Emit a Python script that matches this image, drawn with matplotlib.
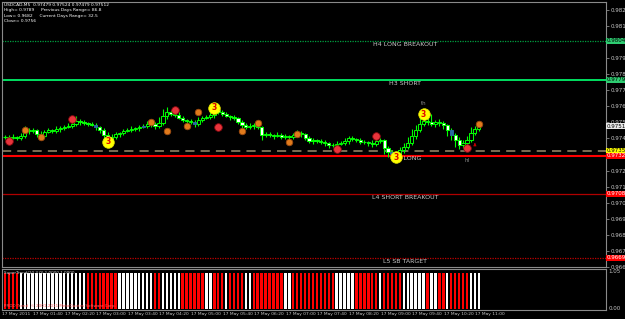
import matplotlib
matplotlib.use('Agg')
import matplotlib.pyplot as plt
from matplotlib.transforms import blended_transform_factory

# ---------------- data ----------------
symbol_header = ["USDCAD,M5  0.97479 0.97524 0.97479 0.97512",
                 "High= 0.9789     Previous Days Range= 86.8",
                 "Low= 0.9682     Current Days Range= 32.5",
                 "Close= 0.9756"]

first_open = 0.97444
closes = [0.97444, 0.97438, 0.97444, 0.97438, 0.97450, 0.97487, 0.97481, 0.97487, 0.97462, 0.97450,
          0.97475, 0.97487, 0.97481, 0.97494, 0.97500, 0.97506, 0.97512, 0.97525, 0.97543, 0.97537,
          0.97531, 0.97525, 0.97519, 0.97506, 0.97487, 0.97456, 0.97425, 0.97444, 0.97462, 0.97469,
          0.97481, 0.97487, 0.97494, 0.97500, 0.97506, 0.97512, 0.97525, 0.97525, 0.97512, 0.97531,
          0.97575, 0.97600, 0.97587, 0.97581, 0.97562, 0.97550, 0.97543, 0.97537, 0.97525, 0.97550,
          0.97562, 0.97568, 0.97581, 0.97612, 0.97600, 0.97587, 0.97575, 0.97568, 0.97562, 0.97537,
          0.97519, 0.97506, 0.97512, 0.97519, 0.97506, 0.97456, 0.97462, 0.97456, 0.97450, 0.97456,
          0.97444, 0.97450, 0.97444, 0.97456, 0.97469, 0.97462, 0.97438, 0.97419, 0.97425, 0.97419,
          0.97413, 0.97406, 0.97394, 0.97394, 0.97400, 0.97406, 0.97419, 0.97438, 0.97431, 0.97425,
          0.97413, 0.97413, 0.97406, 0.97400, 0.97419, 0.97425, 0.97375, 0.97350, 0.97338, 0.97332,
          0.97363, 0.97381, 0.97406, 0.97450, 0.97487, 0.97525, 0.97543, 0.97537, 0.97525, 0.97537,
          0.97531, 0.97519, 0.97487, 0.97456, 0.97425, 0.97394, 0.97406, 0.97425, 0.97469, 0.97494,
          0.97512]
# wick lengths in units of 3.5 points (0.000035)
upper_wick = [4, 3, 5, 2, 6, 8, 3, 4, 2, 5, 3, 4, 2, 6, 3, 4, 5, 3, 9, 4,
              3, 2, 4, 3, 2, 3, 5, 6, 3, 2, 4, 3, 5, 2, 4, 3, 6, 4, 3, 10,
              12, 8, 4, 3, 5, 3, 2, 4, 3, 6, 4, 3, 5, 9, 6, 3, 4, 2, 3, 2,
              4, 3, 5, 3, 6, 2, 3, 4, 2, 5, 3, 4, 2, 3, 5, 3, 2, 4, 3, 2,
              3, 4, 2, 3, 5, 3, 6, 4, 3, 2, 4, 3, 2, 5, 6, 3, 2, 3, 4, 5,
              6, 8, 10, 12, 9, 14, 8, 6, 15, 4, 5, 3, 2, 4, 3, 5, 6, 8, 10, 6,
              5]
lower_wick = [3, 5, 2, 4, 3, 4, 6, 3, 5, 4, 3, 2, 4, 3, 5, 3, 2, 4, 3, 5,
              4, 3, 2, 5, 6, 8, 10, 4, 3, 5, 3, 2, 4, 3, 5, 2, 3, 5, 6, 4,
              3, 5, 4, 3, 2, 4, 5, 3, 6, 4, 3, 2, 4, 5, 3, 4, 2, 5, 3, 4,
              6, 3, 4, 5, 3, 8, 4, 3, 5, 2, 4, 3, 5, 3, 2, 6, 4, 3, 5, 4,
              3, 5, 6, 4, 3, 2, 4, 5, 3, 4, 3, 4, 5, 6, 3, 4, 10, 8, 9, 12,
              6, 5, 4, 3, 5, 4, 3, 6, 4, 5, 6, 8, 10, 9, 12, 8, 6, 5, 4, 3,
              4]
blue_bars = [23, 35, 48, 98, 113]

red_idx = [1, 17, 43, 54, 84, 94, 117]
red_px = [0.97419, 0.97556, 0.97612, 0.97506, 0.97369, 0.97450, 0.97375]
orange_idx = [5, 9, 37, 41, 46, 49, 60, 64, 72, 74, 120]
orange_px = [0.97487, 0.97444, 0.97537, 0.97481, 0.97512, 0.97600, 0.97481, 0.97531, 0.97413, 0.97462, 0.97525]
yellow_idx = [26, 53, 99, 106]
yellow_px = [0.97413, 0.97625, 0.97319, 0.97587]

levels = [0.98042, 0.97799, 0.97357, 0.97326, 0.97089, 0.96691]
level_names = ["H4 LONG BREAKOUT", "H3 SHORT", "", "L3 LONG", "L4 SHORT BREAKOUT", "L5 SB TARGET"]
close_price = 0.97512

price_ticks = [0.98235, 0.98135, 0.98035, 0.97935, 0.97835, 0.97735, 0.97635, 0.97535, 0.97435,
               0.97335, 0.97235, 0.97135, 0.97035, 0.96935, 0.96835, 0.96735, 0.96635]

date_idx = [0, 8, 16, 24, 32, 40, 48, 56, 64, 72, 80, 88, 96, 104, 112, 120]
date_labels = ["17 May 2011", "17 May 01:40", "17 May 02:20", "17 May 03:00", "17 May 03:40",
               "17 May 04:20", "17 May 05:00", "17 May 05:40", "17 May 06:20", "17 May 07:00",
               "17 May 07:40", "17 May 08:20", "17 May 09:00", "17 May 09:40", "17 May 10:20",
               "17 May 11:00"]

hist_runs = [("R", 4), ("W", 17), ("R", 8), ("W", 9), ("R", 2), ("W", 5), ("R", 6), ("W", 2),
             ("R", 3), ("W", 1), ("R", 4), ("W", 2), ("R", 8), ("W", 2), ("R", 11), ("W", 5),
             ("R", 6), ("W", 1), ("R", 5), ("W", 6), ("R", 1), ("W", 2), ("R", 2), ("W", 1),
             ("R", 5), ("W", 3)]

# ---------------- figure ----------------
W, H = 625, 319
fig = plt.figure(figsize=(6.25, 3.19), dpi=100, facecolor='black')


def px_axes(x0, y0, x1, y1):
    return fig.add_axes([x0 / W, 1 - y1 / H, (x1 - x0) / W, (y1 - y0) / H])


FS = 4.0
GRAY = '#c8c8c8'
ax = px_axes(2, 2, 606, 267)
ax.set_facecolor('black')
ax.set_xlim(-0.76, 152.2)
ax.set_ylim(0.966339, 0.982848)
for s in ax.spines.values():
    s.set_color('#8a8a8a')
    s.set_linewidth(0.8)
ax.set_xticks([])
ax.yaxis.tick_right()
ax.set_yticks(price_ticks)
ax.set_yticklabels(["%.5f" % p for p in price_ticks])
ax.tick_params(axis='y', colors='#8a8a8a', labelcolor=GRAY, labelsize=FS, length=2, width=0.6, pad=1.5)

# level lines
ax.axhline(levels[0], color='#00a040', lw=0.9, ls=(0, (1, 1)), zorder=1)
ax.axhline(levels[1], color='#00e060', lw=1.4, zorder=1)
ax.axhline(levels[2], color='#9a8c6c', lw=1.1, ls=(0, (6, 4)), zorder=1)
ax.axhline(levels[3], color='#ff0000', lw=1.5, zorder=1)
ax.axhline(levels[4], color='#b00000', lw=0.9, zorder=1)
ax.axhline(levels[5], color='#c00000', lw=0.9, ls=(0, (1, 1)), zorder=1)

label_pos = [0, 1, 3, 4, 5]
label_x = [101.3, 101.3, 102.0, 101.3, 101.3]
label_dy = [-0.00006, -0.00008, -0.00003, -0.00008, -0.00006]
for k, lx, dy in zip(label_pos, label_x, label_dy):
    ax.text(lx, levels[k] + dy, level_names[k], color=GRAY, fontsize=FS + 0.5,
            ha='center', va='top', zorder=3)

# candles
opens = [first_open] + closes[:-1]
for i, (o, c) in enumerate(zip(opens, closes)):
    hi = max(o, c) + upper_wick[i] * 3.5e-5
    lo = min(o, c) - lower_wick[i] * 3.5e-5
    ax.vlines(i, lo, hi, color='#00ff00', lw=0.8, zorder=4)
    fill = 'black' if c >= o else 'white'
    edge = '#00ff00'
    if i in blue_bars:
        fill = '#2a6aa0'
        edge = '#2a6aa0'
    h = abs(c - o)
    if h < 1e-6:
        ax.hlines(c, i - 0.4, i + 0.4, color='#00ff00', lw=0.8, zorder=5)
    else:
        ax.bar(i, h, bottom=min(o, c), width=0.8, color=fill, edgecolor=edge, lw=0.7, zorder=5)

# markers
ax.scatter(orange_idx, orange_px, s=22, c='#e07a1c', edgecolors='#9a4a10', linewidths=0.6, zorder=6)
ax.scatter(red_idx, red_px, s=30, c='#e8343c', edgecolors='#8a0a10', linewidths=0.6, zorder=6)
ax.scatter(yellow_idx, yellow_px, s=70, c='#ffff00', edgecolors='#e0e000', linewidths=0.5, zorder=7)
for i, p in zip(yellow_idx, yellow_px):
    ax.text(i, p, "3", color='#e00000', fontsize=5.5, fontweight='bold', ha='center', va='center', zorder=8)
ax.text(106, 0.97655, "th", color='#8a8a8a', fontsize=FS, ha='center', va='center', zorder=8)
ax.text(117, 0.97300, "hl", color='#8a8a8a', fontsize=FS, ha='center', va='center', zorder=8)
ax.annotate("", xy=(119, 0.97425), xytext=(119, 0.97380),
            arrowprops=dict(arrowstyle='-|>', color='#c00000', lw=0.6, mutation_scale=4), zorder=8)

# header
for k, line in enumerate(symbol_header):
    fig.text(4 / W, 1 - (5 + 5.4 * k) / H, line, color='white', fontsize=3.2, va='center', ha='left')

# right price boxes
tr = blended_transform_factory(ax.transAxes, ax.transData)
boxes = [(levels[0], '#2ecc71', 'black'), (levels[1], '#2ecc71', 'black'),
         (close_price, '#e8e8e8', 'black'), (levels[2], '#ffff00', 'black'),
         (levels[3], '#ff0000', 'white'), (levels[4], '#ff0000', 'white'),
         (levels[5], '#ff0000', 'white')]
for p, fc, tc in boxes:
    ax.text(1.0015, p, "%.5f" % p, transform=tr, fontsize=FS, color=tc, va='center', ha='left',
            bbox=dict(boxstyle='square,pad=0.15', fc=fc, ec='none'), clip_on=False, zorder=9)

# ---------------- sub window ----------------
axs = px_axes(2, 269, 606, 310)
axs.set_facecolor('black')
axs.set_xlim(-0.76, 152.2)
axs.set_ylim(-0.04, 1.12)
for s in axs.spines.values():
    s.set_color('#8a8a8a')
    s.set_linewidth(0.8)
axs.set_xticks([])
axs.set_yticks([])
hist_colors = []
for col, n in hist_runs:
    hist_colors += [('#ff0000' if col == 'R' else '#ffffff')] * n
axs.bar(range(len(hist_colors)), [1.0] * len(hist_colors), width=0.62, color=hist_colors, lw=0)
axs.text(1.004, 1.05, "1.05", transform=blended_transform_factory(axs.transAxes, axs.transData),
         color=GRAY, fontsize=FS, va='center', ha='left', clip_on=False)
axs.text(1.004, 0.0, "0.00", transform=blended_transform_factory(axs.transAxes, axs.transData),
         color=GRAY, fontsize=FS, va='center', ha='left', clip_on=False)
axs.text(0.003, 0.9, "SuperTrend(10,3.0) 1.0000 1.0000", transform=axs.transAxes, color='#d8d8d8',
         fontsize=3.0, va='center', ha='left', zorder=5)
axs.text(0.003, 0.1, "PRDD Trend  \u00a9 2001-2011 MetaQuotes Software Corp.", transform=axs.transAxes,
         color='#ff6060', fontsize=3.0, va='center', ha='left', zorder=5)

# dates
for i, lab in zip(date_idx, date_labels):
    xpx = 2 + (i + 0.76) * (604 / 152.96) - 3.5
    fig.text(xpx / W, 1 - 313.5 / H, lab, color=GRAY, fontsize=3.2, va='center', ha='left')

fig.savefig('out.png', dpi=100, facecolor='black')
